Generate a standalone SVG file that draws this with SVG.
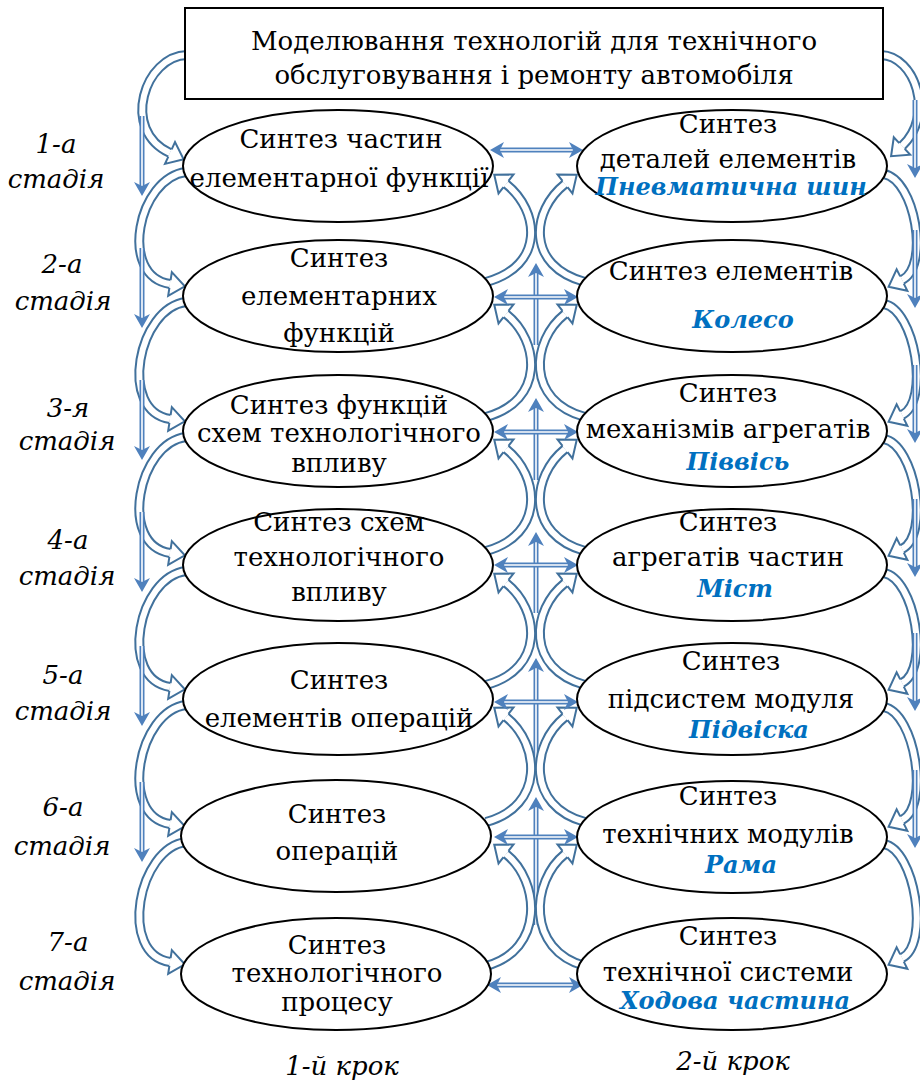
<svg xmlns="http://www.w3.org/2000/svg" width="920" height="1082" viewBox="0 0 920 1082">
  <style>
    .node { fill: #ffffff; stroke: #000000; stroke-width: 2; }
    .t { font-family: "DejaVu Serif", "Liberation Serif", serif; font-size: 26px; fill: #000000; text-anchor: middle; }
    .it { font-family: "DejaVu Serif", "Liberation Serif", serif; font-size: 26px; font-style: italic; fill: #000000; text-anchor: middle; }
    .bl { font-family: "DejaVu Serif", "Liberation Serif", serif; font-size: 24px; font-style: italic; font-weight: bold; fill: #0070C0; text-anchor: middle; }
    .band-o { fill: none; stroke: #41719C; stroke-width: 10; }
    .band-i { fill: none; stroke: #ffffff; stroke-width: 6; marker-end: url(#curveHead); }
    .dbl-o { fill: none; stroke: #4F81BD; stroke-width: 5; }
    .dbl-i { fill: none; stroke: #ffffff; stroke-width: 1.6; }
    .up { marker-end: url(#solidHead); }
    .both { marker-start: url(#solidHeadRev); marker-end: url(#solidHead); }
  </style>
  <defs>
    <marker id="curveHead" markerUnits="userSpaceOnUse" markerWidth="40" markerHeight="40" refX="0" refY="0" orient="auto" overflow="visible">
      <path d="M0,-4 L0,-12 L15,0 L0,12 L0,4" fill="#ffffff" stroke="#41719C" stroke-width="2" stroke-linejoin="miter"/>
    </marker>
    <marker id="solidHead" markerUnits="userSpaceOnUse" markerWidth="30" markerHeight="30" refX="4" refY="0" orient="auto" overflow="visible">
      <path d="M0,-8 L14,0 L0,8 L4,0 Z" fill="#4F81BD"/>
    </marker>
    <marker id="solidHeadRev" markerUnits="userSpaceOnUse" markerWidth="30" markerHeight="30" refX="4" refY="0" orient="auto-start-reverse" overflow="visible">
      <path d="M0,-8 L14,0 L0,8 L4,0 Z" fill="#4F81BD"/>
    </marker>
  </defs>

  <g id="connectors">
    <!-- outer left chain: title -> stage 1 -> ... -> stage 7 -->
    <g id="outer-left">
      <path class="band-o" d="M187,55 C145,56 120,130 170,153"/>
      <path class="band-i" d="M187,55 C145,56 120,130 170,153"/>
      <path class="band-o" d="M186,172 C138,178 118,276 170,284"/>
      <path class="band-i" d="M186,172 C138,178 118,276 170,284"/>
      <path class="band-o" d="M186,302 C138,308 118,411 170,419"/>
      <path class="band-i" d="M186,302 C138,308 118,411 170,419"/>
      <path class="band-o" d="M186,437 C138,443 118,545 170,553"/>
      <path class="band-i" d="M186,437 C138,443 118,545 170,553"/>
      <path class="band-o" d="M186,571 C138,577 118,679 170,687"/>
      <path class="band-i" d="M186,571 C138,577 118,679 170,687"/>
      <path class="band-o" d="M186,705 C138,711 118,816 170,824"/>
      <path class="band-i" d="M186,705 C138,711 118,816 170,824"/>
      <path class="band-o" d="M186,842 C138,848 118,954 170,962"/>
      <path class="band-i" d="M186,842 C138,848 118,954 170,962"/>
    </g>
    <!-- outer right chain -->
    <g id="outer-right">
      <path class="band-o" d="M881,55 C915,56 935,115 902,146"/>
      <path class="band-i" d="M881,55 C915,56 935,115 902,146"/>
      <path class="band-o" d="M884,174 C915,180 930,266 902,280"/>
      <path class="band-i" d="M884,174 C915,180 930,266 902,280"/>
      <path class="band-o" d="M884,304 C915,310 930,401 902,415"/>
      <path class="band-i" d="M884,304 C915,310 930,401 902,415"/>
      <path class="band-o" d="M884,439 C915,445 930,535 902,549"/>
      <path class="band-i" d="M884,439 C915,445 930,535 902,549"/>
      <path class="band-o" d="M884,573 C915,579 930,669 902,683"/>
      <path class="band-i" d="M884,573 C915,579 930,669 902,683"/>
      <path class="band-o" d="M884,707 C915,713 930,806 902,820"/>
      <path class="band-i" d="M884,707 C915,713 930,806 902,820"/>
      <path class="band-o" d="M884,844 C915,850 930,944 902,958"/>
      <path class="band-i" d="M884,844 C915,850 930,944 902,958"/>
    </g>
    <!-- middle vertical double arrows (upward) -->
    <g id="mid-vertical">
      <path class="dbl-o" d="M536,345 L536,273"/>
      <path class="dbl-i up" d="M536,345 L536,273"/>
      <path class="dbl-o" d="M536,480 L536,408"/>
      <path class="dbl-i up" d="M536,480 L536,408"/>
      <path class="dbl-o" d="M536,613 L536,542"/>
      <path class="dbl-i up" d="M536,613 L536,542"/>
      <path class="dbl-o" d="M536,770 L536,668"/>
      <path class="dbl-i up" d="M536,770 L536,668"/>
      <path class="dbl-o" d="M536,925 L536,807"/>
      <path class="dbl-i up" d="M536,925 L536,807"/>
    </g>
    <!-- middle curved arrows between neighbouring stages -->
    <g id="mid-curves">
      <path class="band-o" d="M486,282 C545,266 540,211 506,184"/>
      <path class="band-i" d="M486,282 C545,266 540,211 506,184"/>
      <path class="band-o" d="M585,282 C526,266 531,211 565,184"/>
      <path class="band-i" d="M585,282 C526,266 531,211 565,184"/>
      <path class="band-o" d="M486,417 C545,401 540,341 506,314"/>
      <path class="band-i" d="M486,417 C545,401 540,341 506,314"/>
      <path class="band-o" d="M585,417 C526,401 531,341 565,314"/>
      <path class="band-i" d="M585,417 C526,401 531,341 565,314"/>
      <path class="band-o" d="M486,551 C545,535 540,476 506,449"/>
      <path class="band-i" d="M486,551 C545,535 540,476 506,449"/>
      <path class="band-o" d="M585,551 C526,535 531,476 565,449"/>
      <path class="band-i" d="M585,551 C526,535 531,476 565,449"/>
      <path class="band-o" d="M486,685 C545,669 540,610 506,583"/>
      <path class="band-i" d="M486,685 C545,669 540,610 506,583"/>
      <path class="band-o" d="M585,685 C526,669 531,610 565,583"/>
      <path class="band-i" d="M585,685 C526,669 531,610 565,583"/>
      <path class="band-o" d="M486,822 C545,806 540,744 506,717"/>
      <path class="band-i" d="M486,822 C545,806 540,744 506,717"/>
      <path class="band-o" d="M585,822 C526,806 531,744 565,717"/>
      <path class="band-i" d="M585,822 C526,806 531,744 565,717"/>
      <path class="band-o" d="M486,966 C545,950 540,881 506,854"/>
      <path class="band-i" d="M486,966 C545,950 540,881 506,854"/>
      <path class="band-o" d="M585,966 C526,950 531,881 565,854"/>
      <path class="band-i" d="M585,966 C526,950 531,881 565,854"/>
    </g>
    <!-- horizontal two-way double arrows -->
    <g id="mid-horizontal">
      <path class="dbl-o" d="M500,150 L573,150"/>
      <path class="dbl-i both" d="M500,150 L573,150"/>
      <path class="dbl-o" d="M504,297 L568,297"/>
      <path class="dbl-i both" d="M504,297 L568,297"/>
      <path class="dbl-o" d="M504,432 L568,432"/>
      <path class="dbl-i both" d="M504,432 L568,432"/>
      <path class="dbl-o" d="M504,565 L568,565"/>
      <path class="dbl-i both" d="M504,565 L568,565"/>
      <path class="dbl-o" d="M504,702 L568,702"/>
      <path class="dbl-i both" d="M504,702 L568,702"/>
      <path class="dbl-o" d="M504,837 L568,837"/>
      <path class="dbl-i both" d="M504,837 L568,837"/>
      <path class="dbl-o" d="M497,985 L573,985"/>
      <path class="dbl-i both" d="M497,985 L573,985"/>
    </g>
    <!-- side vertical double arrows (downward) -->
    <g id="side-vertical">
      <path class="dbl-o" d="M142,116 L142,186"/>
      <path class="dbl-i up" d="M142,116 L142,186"/>
      <path class="dbl-o" d="M142,248 L142,318"/>
      <path class="dbl-i up" d="M142,248 L142,318"/>
      <path class="dbl-o" d="M142,380 L142,450"/>
      <path class="dbl-i up" d="M142,380 L142,450"/>
      <path class="dbl-o" d="M142,512 L142,582"/>
      <path class="dbl-i up" d="M142,512 L142,582"/>
      <path class="dbl-o" d="M142,646 L142,716"/>
      <path class="dbl-i up" d="M142,646 L142,716"/>
      <path class="dbl-o" d="M142,782 L142,852"/>
      <path class="dbl-i up" d="M142,782 L142,852"/>
      <path class="dbl-o" d="M915,100 L915,168"/>
      <path class="dbl-i up" d="M915,100 L915,168"/>
      <path class="dbl-o" d="M915,230 L915,298"/>
      <path class="dbl-i up" d="M915,230 L915,298"/>
      <path class="dbl-o" d="M915,365 L915,433"/>
      <path class="dbl-i up" d="M915,365 L915,433"/>
      <path class="dbl-o" d="M915,499 L915,567"/>
      <path class="dbl-i up" d="M915,499 L915,567"/>
      <path class="dbl-o" d="M915,633 L915,701"/>
      <path class="dbl-i up" d="M915,633 L915,701"/>
      <path class="dbl-o" d="M915,770 L915,838"/>
      <path class="dbl-i up" d="M915,770 L915,838"/>
    </g>
  </g>

  <g id="title">
    <rect class="node" x="185" y="8" width="698" height="91"/>
    <text class="t" x="534" y="50">Моделювання технологій для технічного</text>
    <text class="t" x="534" y="84">обслуговування і ремонту автомобіля</text>
  </g>

  <!-- first step: technology column -->
  <g id="tech-1">
    <ellipse class="node" cx="338" cy="166" rx="155" ry="56"/>
    <text class="t" x="341" y="148">Синтез частин</text>
    <text class="t" x="339" y="187">елементарної функції</text>
  </g>
  <g id="tech-2">
    <ellipse class="node" cx="338" cy="296" rx="155" ry="56"/>
    <text class="t" x="339" y="267">Синтез</text>
    <text class="t" x="339" y="305">елементарних</text>
    <text class="t" x="339" y="342">функцій</text>
  </g>
  <g id="tech-3">
    <ellipse class="node" cx="338" cy="431" rx="155" ry="56"/>
    <text class="t" x="339" y="414">Синтез функцій</text>
    <text class="t" x="339" y="442">схем технологічного</text>
    <text class="t" x="339" y="472">впливу</text>
  </g>
  <g id="tech-4">
    <ellipse class="node" cx="338" cy="565" rx="155" ry="56"/>
    <text class="t" x="339" y="531">Синтез схем</text>
    <text class="t" x="339" y="566">технологічного</text>
    <text class="t" x="339" y="601">впливу</text>
  </g>
  <g id="tech-5">
    <ellipse class="node" cx="338" cy="699" rx="155" ry="56"/>
    <text class="t" x="339" y="689">Синтез</text>
    <text class="t" x="339" y="727">елементів операцій</text>
  </g>
  <g id="tech-6">
    <ellipse class="node" cx="336" cy="836" rx="155" ry="56"/>
    <text class="t" x="337" y="823">Синтез</text>
    <text class="t" x="337" y="860">операцій</text>
  </g>
  <g id="tech-7">
    <ellipse class="node" cx="336" cy="974" rx="155" ry="56"/>
    <text class="t" x="337" y="954">Синтез</text>
    <text class="t" x="337" y="982">технологічного</text>
    <text class="t" x="337" y="1011">процесу</text>
  </g>

  <!-- second step: vehicle column -->
  <g id="car-1">
    <ellipse class="node" cx="732" cy="166" rx="155" ry="56"/>
    <text class="t" x="728" y="133">Синтез</text>
    <text class="t" x="728" y="168">деталей елементів</text>
    <text class="bl" x="731" y="195">Пневматична шин</text>
  </g>
  <g id="car-2">
    <ellipse class="node" cx="732" cy="296" rx="155" ry="56"/>
    <text class="t" x="731" y="280">Синтез елементів</text>
    <text class="bl" x="743" y="328">Колесо</text>
  </g>
  <g id="car-3">
    <ellipse class="node" cx="732" cy="431" rx="155" ry="56"/>
    <text class="t" x="728" y="402">Синтез</text>
    <text class="t" x="728" y="438">механізмів агрегатів</text>
    <text class="bl" x="738" y="470">Піввісь</text>
  </g>
  <g id="car-4">
    <ellipse class="node" cx="732" cy="565" rx="155" ry="56"/>
    <text class="t" x="728" y="531">Синтез</text>
    <text class="t" x="728" y="566">агрегатів частин</text>
    <text class="bl" x="735" y="597">Міст</text>
  </g>
  <g id="car-5">
    <ellipse class="node" cx="732" cy="699" rx="155" ry="56"/>
    <text class="t" x="731" y="670">Синтез</text>
    <text class="t" x="731" y="708">підсистем модуля</text>
    <text class="bl" x="749" y="738">Підвіска</text>
  </g>
  <g id="car-6">
    <ellipse class="node" cx="732" cy="837" rx="155" ry="56"/>
    <text class="t" x="728" y="805">Синтез</text>
    <text class="t" x="728" y="843">технічних модулів</text>
    <text class="bl" x="741" y="873">Рама</text>
  </g>
  <g id="car-7">
    <ellipse class="node" cx="732" cy="974" rx="155" ry="56"/>
    <text class="t" x="728" y="945">Синтез</text>
    <text class="t" x="728" y="981">технічної системи</text>
    <text class="bl" x="735" y="1009">Ходова частина</text>
  </g>

  <!-- stage and step captions -->
  <g id="captions">
    <text class="it" x="56" y="153">1-а</text>
    <text class="it" x="56" y="188">стадія</text>
    <text class="it" x="62" y="273">2-а</text>
    <text class="it" x="63" y="310">стадія</text>
    <text class="it" x="68" y="417">3-я</text>
    <text class="it" x="67" y="450">стадія</text>
    <text class="it" x="68" y="549">4-а</text>
    <text class="it" x="67" y="585">стадія</text>
    <text class="it" x="63" y="684">5-а</text>
    <text class="it" x="63" y="720">стадія</text>
    <text class="it" x="63" y="816">6-а</text>
    <text class="it" x="62" y="855">стадія</text>
    <text class="it" x="68" y="951">7-а</text>
    <text class="it" x="67" y="990">стадія</text>
    <text class="it" x="342" y="1075">1-й крок</text>
    <text class="it" x="733" y="1070">2-й крок</text>
  </g>
</svg>
